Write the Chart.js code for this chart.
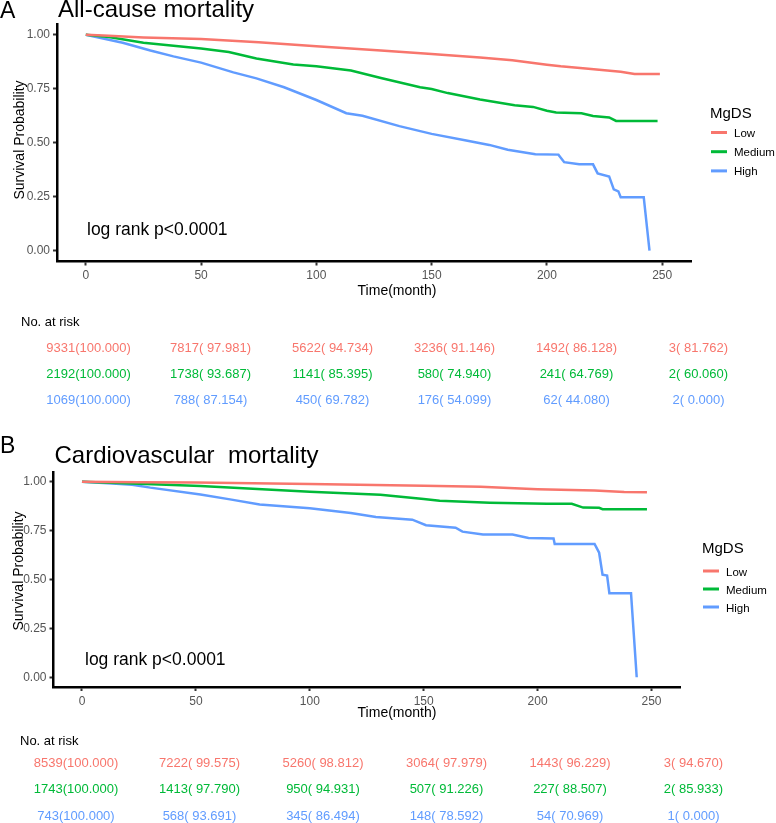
<!DOCTYPE html>
<html>
<head>
<meta charset="utf-8">
<script src="https://cdn.jsdelivr.net/npm/chart.js@4.4.1/dist/chart.umd.min.js"></script>
<style>
  body { margin: 0; background: #fff; }
  #wrap { position: relative; width: 776px; height: 823px; }
  canvas { position: absolute; left: 0; top: 0; }
</style>
</head>
<body>
<div id="wrap">
  <canvas id="chartA" width="776" height="823"></canvas>
  <canvas id="chartB" width="776" height="823"></canvas>
</div>
<script>
// groups and colours (ggplot default hues)
var groups = ['Low', 'Medium', 'High'];
var colors = ['#F8766D', '#00BA38', '#619CFF'];
var xTicks = [0, 50, 100, 150, 200, 250];
var yTicks = [0, 0.25, 0.5, 0.75, 1];

// A: all-cause mortality, [month, survival]
var allLow = [[0, 1], [10, 0.996], [25, 0.988], [50, 0.980], [75, 0.966], [100, 0.947], [128, 0.927],
  [150, 0.911], [171, 0.895], [185, 0.882], [200, 0.861], [206, 0.854], [218, 0.843], [232, 0.829],
  [238, 0.818], [249, 0.818]];
var allMedium = [[0, 1], [10, 0.99], [25, 0.963], [50, 0.937], [62, 0.92], [74, 0.89], [90, 0.862],
  [100, 0.854], [115, 0.835], [128, 0.80], [145, 0.757], [150, 0.749], [157, 0.73], [171, 0.70],
  [186, 0.674], [194, 0.666], [200, 0.648], [204, 0.64], [215, 0.637], [220, 0.624], [227, 0.617],
  [230, 0.601], [248, 0.601]];
var allHigh = [[0, 1], [6, 0.986], [16, 0.963], [28, 0.927], [38, 0.90], [50, 0.871], [64, 0.826],
  [74, 0.798], [86, 0.757], [100, 0.698], [113, 0.637], [120, 0.625], [136, 0.577], [150, 0.541],
  [165, 0.51], [175, 0.49], [183, 0.468], [195, 0.447], [205, 0.445], [207.5, 0.41], [214, 0.40],
  [220, 0.40], [222, 0.358], [227, 0.344], [229, 0.284], [231, 0.275], [232, 0.248], [242, 0.248],
  [244.5, 0]];

// B: cardiovascular mortality
var cvdLow = [[0, 1], [25, 0.998], [50, 0.996], [100, 0.988], [150, 0.980], [175, 0.974], [200, 0.962],
  [225, 0.955], [238, 0.948], [248, 0.947]];
var cvdMedium = [[0, 1], [25, 0.99], [52, 0.978], [100, 0.949], [131, 0.933], [150, 0.912], [157, 0.903],
  [179, 0.893], [204, 0.888], [215, 0.887], [220, 0.868], [227, 0.867], [228.5, 0.86], [248, 0.86]];
var cvdHigh = [[0, 1], [15, 0.99], [22, 0.985], [30, 0.97], [52, 0.935], [65, 0.91], [78, 0.884],
  [100, 0.865], [118, 0.84], [129, 0.82], [145, 0.806], [151, 0.778], [164, 0.765], [167, 0.745],
  [176, 0.73], [189, 0.73], [196, 0.712], [207, 0.71], [207.5, 0.682], [225, 0.682], [227, 0.637],
  [228.5, 0.525], [230.5, 0.52], [231.5, 0.43], [241, 0.43], [243.5, 0]];

// numbers at risk (percent surviving) at the x ticks
var allRisk = [[9331, 7817, 5622, 3236, 1492, 3], [2192, 1738, 1141, 580, 241, 2], [1069, 788, 450, 176, 62, 2]];
var allPct = [[100, 97.981, 94.734, 91.146, 86.128, 81.762], [100, 93.687, 85.395, 74.940, 64.769, 60.060],
  [100, 87.154, 69.782, 54.099, 44.080, 0]];
var cvdRisk = [[8539, 7222, 5260, 3064, 1443, 3], [1743, 1413, 950, 507, 227, 2], [743, 568, 345, 148, 54, 1]];
var cvdPct = [[100, 99.575, 98.812, 97.979, 96.229, 94.670], [100, 97.790, 94.931, 91.226, 88.507, 85.933],
  [100, 93.691, 86.494, 78.592, 70.969, 0]];

var FONT = '"Liberation Sans", Arial, sans-serif';

function riskLabel(n, p) {
  return n + '(' + (p < 100 ? ' ' : '') + p.toFixed(3) + ')';
}

// draws titles, legend, p value and the risk table around the plot
function decor(p) {
  return {
    id: 'decor' + p.letter,
    afterDraw: function (chart) {
      var ctx = chart.ctx;
      var a = chart.chartArea;
      ctx.save();
      ctx.fillStyle = '#000';
      ctx.textAlign = 'left';
      ctx.textBaseline = 'alphabetic';
      ctx.font = '23px ' + FONT;
      ctx.fillText(p.letter, 0, p.letterY);
      ctx.font = '24px ' + FONT;
      ctx.fillText(p.title, a.left + 1, p.titleY);

      ctx.font = '17.5px ' + FONT;
      ctx.fillText('log rank p<0.0001', p.pX, p.pY);

      // axis titles
      ctx.font = '14px ' + FONT;
      ctx.textAlign = 'center';
      ctx.textBaseline = 'middle';
      ctx.fillText('Time(month)', p.xTitleX, p.xTitleY);
      ctx.save();
      ctx.translate(p.yTitleX, p.yTitleY);
      ctx.rotate(-Math.PI / 2);
      ctx.fillText('Survival Probability', 0, 0);
      ctx.restore();

      // legend
      ctx.textAlign = 'left';
      ctx.textBaseline = 'alphabetic';
      ctx.font = '15px ' + FONT;
      ctx.fillText('MgDS', p.legX, p.legY);
      ctx.font = '11.5px ' + FONT;
      for (var i = 0; i < groups.length; i++) {
        var ly = p.legY + p.legFirst + i * p.legStep;
        ctx.strokeStyle = colors[i];
        ctx.lineWidth = 3;
        ctx.beginPath();
        ctx.moveTo(p.legX + 1, ly);
        ctx.lineTo(p.legX + 17, ly);
        ctx.stroke();
        ctx.fillStyle = '#000';
        ctx.fillText(groups[i], p.legX + 24, ly + 4.5);
      }

      // risk table
      ctx.font = '13px ' + FONT;
      ctx.textBaseline = 'middle';
      ctx.fillStyle = '#000';
      ctx.fillText('No. at risk', p.tabX, p.tabY);
      ctx.textAlign = 'center';
      for (var g = 0; g < groups.length; g++) {
        ctx.fillStyle = colors[g];
        for (var k = 0; k < xTicks.length; k++) {
          ctx.fillText(riskLabel(p.risk[g][k], p.pct[g][k]),
            p.colX0 + xTicks[k] * p.colK, p.rowY0 + g * p.rowStep);
        }
      }
      ctx.restore();
    }
  };
}

function makePanel(id, curves, box, p) {
  var datasets = curves.map(function (c, i) {
    return {
      label: groups[i],
      data: c.map(function (d) { return { x: d[0], y: d[1] }; }),
      borderColor: colors[i],
      borderWidth: 2.5,
      pointRadius: 0,
      fill: false,
      tension: 0
    };
  });
  var tickFont = { family: FONT, size: 12 };
  return new Chart(document.getElementById(id), {
    type: 'line',
    data: { datasets: datasets },
    options: {
      responsive: false,
      animation: false,
      events: [],
      layout: {
        padding: { left: 0, top: box.top, right: 776 - box.right, bottom: 823 - box.bottom - 30 }
      },
      plugins: { legend: { display: false }, tooltip: { enabled: false } },
      scales: {
        x: {
          type: 'linear',
          min: -12.5,
          max: 262.5,
          afterBuildTicks: function (s) { s.ticks = xTicks.map(function (v) { return { value: v }; }); },
          afterFit: function (s) { s.height = 30; },
          ticks: { color: '#555', font: tickFont, padding: 3, maxRotation: 0 },
          grid: { drawOnChartArea: false, drawTicks: true, tickLength: 4, tickWidth: 2, tickColor: '#333' },
          border: { display: true, color: '#000', width: 2.5 }
        },
        y: {
          type: 'linear',
          min: -0.05,
          max: 1.05,
          afterBuildTicks: function (s) { s.ticks = yTicks.map(function (v) { return { value: v }; }); },
          afterFit: function (s) { s.width = box.left; },
          ticks: { color: '#555', font: tickFont, padding: 3, callback: function (v) { return v.toFixed(2); } },
          grid: { drawOnChartArea: false, drawTicks: true, tickLength: 4, tickWidth: 2, tickColor: '#333' },
          border: { display: true, color: '#000', width: 2.5 }
        }
      }
    },
    plugins: [decor(p)]
  });
}

makePanel('chartA', [allLow, allMedium, allHigh],
  { left: 57, top: 24, right: 691, bottom: 261.5 },
  { letter: 'A', letterY: 18, title: 'All-cause mortality', titleY: 17,
    pX: 87, pY: 235, xTitleX: 397, xTitleY: 291, yTitleX: 20, yTitleY: 140,
    legX: 710, legY: 118, legFirst: 14.5, legStep: 19.2,
    tabX: 21, tabY: 322, colX0: 88.5, colK: 2.44, rowY0: 348, rowStep: 26,
    risk: allRisk, pct: allPct });

makePanel('chartB', [cvdLow, cvdMedium, cvdHigh],
  { left: 53.5, top: 472, right: 680, bottom: 687 },
  { letter: 'B', letterY: 453, title: 'Cardiovascular  mortality', titleY: 463,
    pX: 85, pY: 665, xTitleX: 397, xTitleY: 713, yTitleX: 19, yTitleY: 571,
    legX: 702, legY: 553, legFirst: 18, legStep: 18,
    tabX: 20, tabY: 741, colX0: 76, colK: 2.47, rowY0: 763, rowStep: 26.5,
    risk: cvdRisk, pct: cvdPct });
</script>
</body>
</html>
